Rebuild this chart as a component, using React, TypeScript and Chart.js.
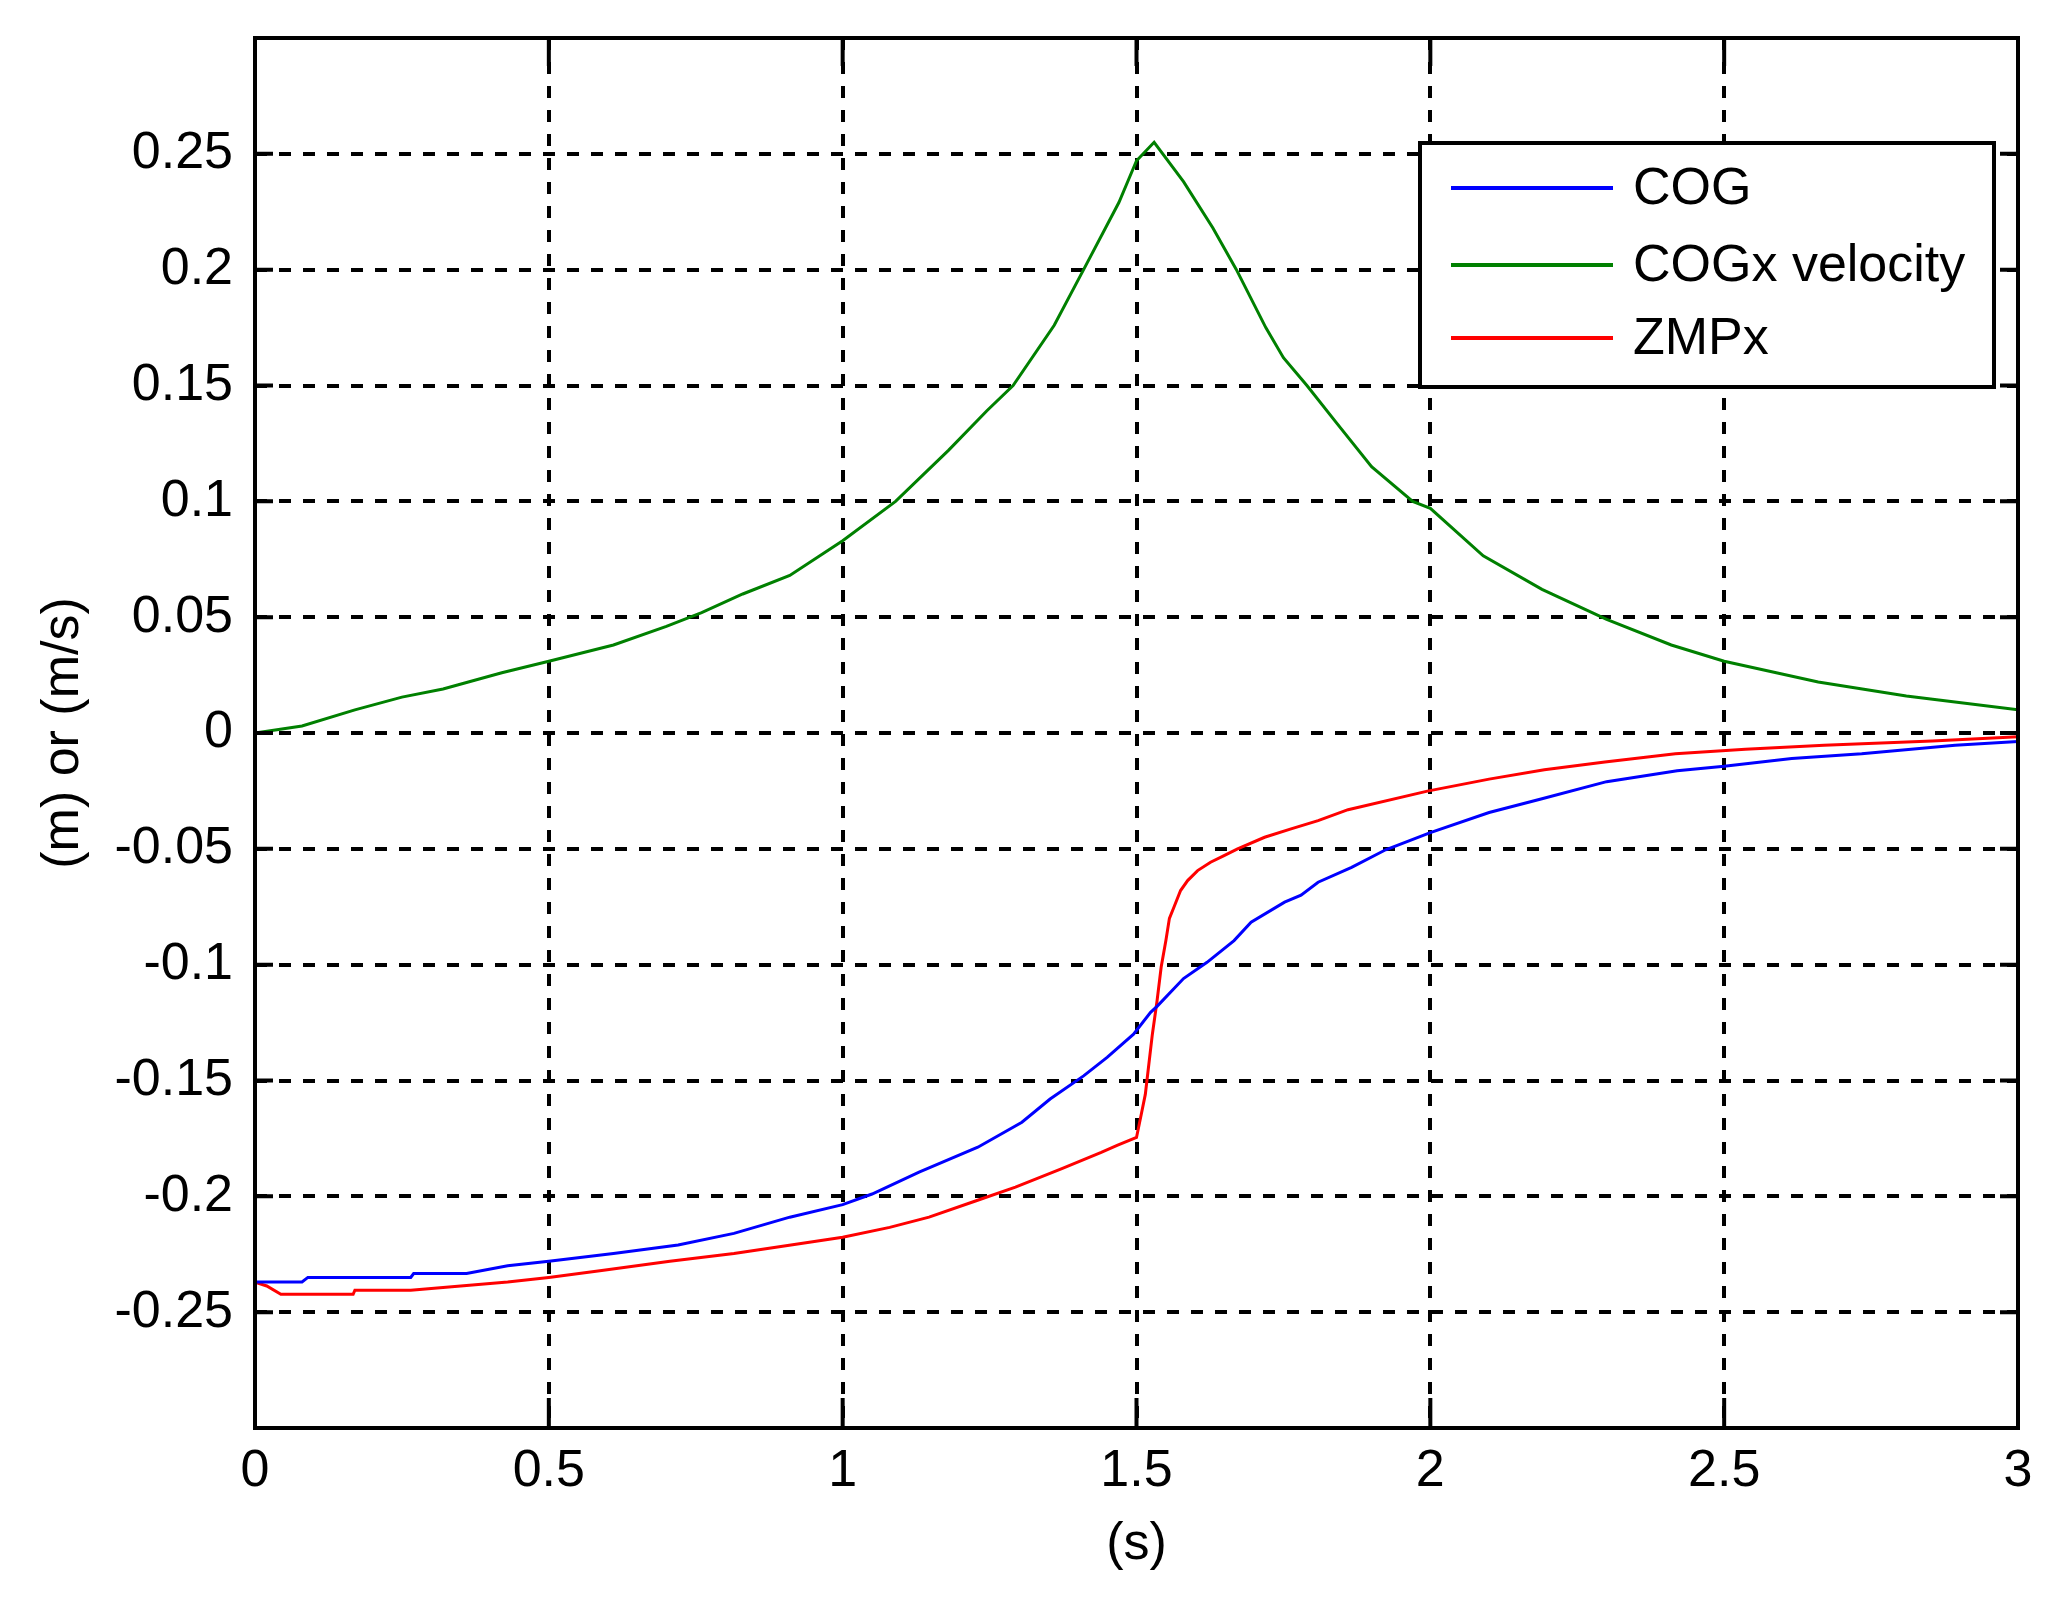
import { useEffect, useRef } from 'react'
import { Chart, registerables } from 'chart.js'

Chart.register(...registerables)

// time stamps (s) and values
const cogT = [0, 0.08, 0.09, 0.265, 0.27, 0.36, 0.43, 0.5, 0.61, 0.72, 0.815, 0.91, 1.0, 1.05, 1.13, 1.23, 1.305, 1.353, 1.41, 1.45, 1.495, 1.524, 1.535, 1.58, 1.62, 1.666, 1.695, 1.752, 1.78, 1.809, 1.866, 1.924, 2.0, 2.1, 2.19, 2.3, 2.42, 2.5, 2.615, 2.734, 2.893, 3.0]
const cogV = [-0.237, -0.237, -0.235, -0.235, -0.2333, -0.2333, -0.23, -0.228, -0.2247, -0.221, -0.216, -0.209, -0.2036, -0.199, -0.1896, -0.1788, -0.168, -0.158, -0.148, -0.14, -0.13, -0.1206, -0.118, -0.106, -0.099, -0.0896, -0.0817, -0.073, -0.07, -0.0644, -0.058, -0.0504, -0.043, -0.0343, -0.0284, -0.021, -0.0163, -0.0144, -0.011, -0.009, -0.0053, -0.0037]

const velT = [0, 0.08, 0.17, 0.25, 0.32, 0.42, 0.5, 0.61, 0.7, 0.76, 0.83, 0.91, 1.0, 1.09, 1.18, 1.245, 1.29, 1.36, 1.41, 1.47, 1.5, 1.53, 1.58, 1.63, 1.67, 1.72, 1.75, 1.79, 1.84, 1.9, 1.97, 2.0, 2.09, 2.19, 2.3, 2.41, 2.5, 2.66, 2.81, 3.0]
const velV = [0, 0.003, 0.01, 0.0155, 0.019, 0.026, 0.031, 0.038, 0.046, 0.052, 0.06, 0.068, 0.083, 0.1, 0.122, 0.139, 0.15, 0.176, 0.2, 0.229, 0.247, 0.255, 0.238, 0.218, 0.2, 0.175, 0.162, 0.15, 0.134, 0.115, 0.1, 0.097, 0.0765, 0.062, 0.049, 0.038, 0.031, 0.022, 0.016, 0.01]

const zmpT = [0, 0.02, 0.044, 0.167, 0.17, 0.265, 0.35, 0.43, 0.5, 0.59, 0.706, 0.815, 0.912, 1.0, 1.08, 1.147, 1.226, 1.294, 1.373, 1.44, 1.467, 1.5, 1.507, 1.515, 1.521, 1.527, 1.535, 1.542, 1.55, 1.556, 1.564, 1.575, 1.587, 1.604, 1.626, 1.649, 1.672, 1.718, 1.763, 1.809, 1.86, 1.995, 2.1, 2.194, 2.297, 2.417, 2.536, 2.67, 2.854, 3.0]
const zmpV = [-0.237, -0.2387, -0.2423, -0.2423, -0.2405, -0.2405, -0.2387, -0.237, -0.235, -0.232, -0.228, -0.2247, -0.221, -0.2177, -0.2134, -0.209, -0.202, -0.196, -0.188, -0.181, -0.178, -0.1746, -0.166, -0.156, -0.143, -0.13, -0.1156, -0.101, -0.0896, -0.08, -0.075, -0.068, -0.0637, -0.0594, -0.0558, -0.0529, -0.05, -0.045, -0.0414, -0.0378, -0.0331, -0.0251, -0.0199, -0.0159, -0.0125, -0.009, -0.007, -0.0053, -0.0035, -0.0016]

const seriesNames = ['COG', 'COGx velocity', 'ZMPx']
const seriesColors = ['#0000ff', '#008000', '#ff0000']

const FONT = '"Liberation Sans", Arial, Helvetica, sans-serif'

const toPoints = (t: number[], v: number[]) => t.map((x, i) => ({ x, y: v[i] }))

// MATLAB-style box: solid frame, inward ticks, opaque legend in the upper right
const matlabBox = {
  id: 'matlabBox',
  afterDraw(chart: any) {
    const { ctx, chartArea: a, scales } = chart
    ctx.save()
    ctx.setLineDash([])
    ctx.strokeStyle = '#000'
    ctx.lineWidth = 4

    ctx.beginPath()
    scales.x.ticks.forEach((t: any) => {
      const px = scales.x.getPixelForValue(t.value)
      ctx.moveTo(px, a.bottom); ctx.lineTo(px, a.bottom - 30)
      ctx.moveTo(px, a.top); ctx.lineTo(px, a.top + 28)
    })
    scales.y.ticks.forEach((t: any) => {
      const py = scales.y.getPixelForValue(t.value)
      ctx.moveTo(a.left, py); ctx.lineTo(a.left + 18, py)
      ctx.moveTo(a.right, py); ctx.lineTo(a.right - 18, py)
    })
    ctx.stroke()
    ctx.strokeRect(a.left, a.top, a.right - a.left, a.bottom - a.top)

    // legend
    const bx = a.right - 598, by = a.top + 105, bw = 574, bh = 244
    ctx.fillStyle = '#fff'
    ctx.fillRect(bx, by, bw, bh)
    ctx.strokeRect(bx, by, bw, bh)
    const rows = [45, 122, 195]
    ctx.font = `52px ${FONT}`
    ctx.textBaseline = 'middle'
    ctx.textAlign = 'left'
    seriesNames.forEach((name, i) => {
      const y = by + rows[i]
      ctx.strokeStyle = seriesColors[i]
      ctx.lineWidth = 4
      ctx.beginPath()
      ctx.moveTo(bx + 31, y); ctx.lineTo(bx + 193, y)
      ctx.stroke()
      ctx.fillStyle = '#000'
      ctx.fillText(name, bx + 213, y + 2)
    })
    ctx.restore()
  },
}

export default function App() {
  const canvasRef = useRef<HTMLCanvasElement>(null)

  useEffect(() => {
    if (!canvasRef.current) return
    const existing = Chart.getChart(canvasRef.current)
    if (existing) existing.destroy()

    const series = [toPoints(cogT, cogV), toPoints(velT, velV), toPoints(zmpT, zmpV)]

    const chart = new Chart(canvasRef.current, {
      type: 'line',
      data: {
        datasets: series.map((data, i) => ({
          label: seriesNames[i],
          data,
          borderColor: seriesColors[i],
          borderWidth: 3,
          pointRadius: 0,
          tension: 0,
          fill: false,
        })),
      },
      plugins: [matlabBox],
      options: {
        animation: false,
        responsive: true,
        maintainAspectRatio: false,
        layout: { padding: { left: 0, top: 38, right: 48, bottom: 0 } },
        plugins: { legend: { display: false }, tooltip: { enabled: false } },
        scales: {
          x: {
            type: 'linear',
            min: 0,
            max: 3,
            ticks: {
              stepSize: 0.5,
              padding: 12,
              color: '#000',
              font: { family: FONT, size: 52 },
              maxRotation: 0,
              callback: (v: any) => String(+Number(v).toFixed(2)),
            },
            grid: { color: '#000', lineWidth: 4, drawTicks: false },
            border: { display: false, dash: [12, 12] },
            title: {
              display: true,
              text: '(s)',
              color: '#000',
              font: { family: FONT, size: 52 },
              padding: { top: 0, bottom: 28 },
            },
            afterFit: (scale: any) => { scale.height = 176 },
          },
          y: {
            min: -0.3,
            max: 0.3,
            ticks: {
              stepSize: 0.05,
              padding: 22,
              color: '#000',
              font: { family: FONT, size: 52 },
              callback: (v: any) => {
                const n = Number(v)
                if (Math.abs(Math.abs(n) - 0.3) < 1e-9) return ''
                return String(+n.toFixed(2))
              },
            },
            grid: { color: '#000', lineWidth: 4, drawTicks: false },
            border: { display: false, dash: [12, 12] },
            title: {
              display: true,
              text: '(m) or (m/s)',
              color: '#000',
              font: { family: FONT, size: 52 },
              padding: { top: 32, bottom: 0 },
            },
            afterFit: (scale: any) => {
              scale.width = 255
              scale.paddingTop = 0
              scale.paddingBottom = 0
            },
          },
        },
      },
    })

    return () => { chart.destroy() }
  }, [])

  return (
    <div style={{ position: 'absolute', left: 0, top: 0, width: '2066px', height: '1604px', background: '#fff' }}>
      <canvas ref={canvasRef} />
    </div>
  )
}
